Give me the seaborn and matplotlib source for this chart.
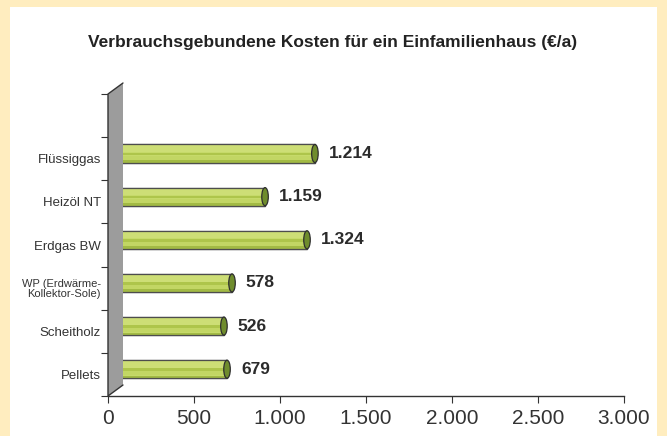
import matplotlib
matplotlib.use("Agg")
import matplotlib.pyplot as plt
from matplotlib.patches import Rectangle, Ellipse, Polygon
from matplotlib.lines import Line2D
from matplotlib.ticker import FuncFormatter, FixedLocator
import seaborn as sns
import pandas as pd

# data
categories = ["Flüssiggas", "Heizöl NT", "Erdgas BW",
              "WP (Erdwärme-\nKollektor-Sole)", "Scheitholz", "Pellets"]
bar_lengths = [1203, 913, 1157, 721, 674, 692]
value_labels = ["1.214", "1.159", "1.324", "578", "526", "679"]
x_ticks = [0, 500, 1000, 1500, 2000, 2500, 3000]

title = "Verbrauchsgebundene Kosten für ein Einfamilienhaus (€/a)"

df = pd.DataFrame({"Heizung": categories, "Kosten": bar_lengths})

sns.set_theme(style="white")
plt.rcParams["font.family"] = ["Liberation Sans", "DejaVu Sans"]

fig = plt.figure(figsize=(6.67, 4.36), dpi=100)
fig.patch.set_facecolor("#FFEDBF")
fig.patches.append(Rectangle((10 / 667, 0), 647 / 667, 1 - 7 / 436,
                             transform=fig.transFigure, facecolor="white",
                             edgecolor="none", zorder=-10))

ax = fig.add_axes([108 / 667, 40 / 436, 516 / 667, 302 / 436])
ax.set_facecolor("none")

sns.barplot(data=df, x="Kosten", y="Heizung", orient="h", color="#C6DA6A",
            width=0.42, edgecolor="#4D4D4D", linewidth=0.9, ax=ax,
            saturation=1, zorder=2)

ax.set_xlim(0, 3000)
ax.set_ylim(5.5, -1.5)

# 3D look: depth of the wall in data units
dx = 15 / 516 * 3000
dy = 11 / 302 * 7
shift = 0.12

bands = [(0.05, 0.42, "#CDDE76"), (0.45, 0.60, "#AEC54B"),
         (0.62, 0.84, "#C2D664"), (0.86, 1.0, "#A2BA44")]
for p in ax.patches[:len(categories)]:
    p.set_y(p.get_y() - shift)
    y0, h, w = p.get_y(), p.get_height(), p.get_width()
    for a, b, c in bands:
        ax.add_patch(Rectangle((0, y0 + a * h), w, (b - a) * h, facecolor=c,
                               edgecolor="none", zorder=2.1))
    ax.add_patch(Rectangle((0, y0), w, h, facecolor="none",
                           edgecolor="#4D4D4D", linewidth=0.9, zorder=2.2))
    ax.add_patch(Ellipse((w, y0 + h / 2), 38, h, facecolor="#6F8C2D",
                         edgecolor="#2E2E2E", linewidth=0.9, zorder=2.3))

ax.bar_label(ax.containers[0], labels=value_labels, padding=10,
             fontsize=12.5, fontweight="bold", color="#2B2B2B")

# gray side wall
wall = Polygon([(0, 5.5), (0, -1.5), (dx, -1.5 - dy), (dx, 5.5 - dy)],
               closed=True, facecolor="#9C9C9C", edgecolor="none",
               zorder=3, clip_on=False)
ax.add_patch(wall)
ax.add_line(Line2D([dx, 0, 0, dx], [-1.5 - dy, -1.5, 5.5, 5.5 - dy],
                   color="#333333", linewidth=1, zorder=3.1, clip_on=False))

for s in ["top", "right", "left"]:
    ax.spines[s].set_visible(False)
ax.spines["bottom"].set_color("#333333")
ax.spines["bottom"].set_linewidth(1)

ax.set_xticks(x_ticks)
ax.xaxis.set_major_formatter(FuncFormatter(lambda v, _: f"{int(v):,}".replace(",", ".")))
ax.tick_params(axis="x", direction="out", length=5, width=0.8, color="#333333",
               labelsize=15, labelcolor="#333333", pad=4, bottom=True)

ax.yaxis.set_minor_locator(FixedLocator([i - 0.5 for i in range(-1, 7)]))
ax.tick_params(axis="y", which="major", length=0, pad=5, labelsize=9.5,
               labelcolor="#333333")
ax.tick_params(axis="y", which="minor", length=5, width=0.8, color="#333333",
               left=True)
ax.set_ylabel("")
ax.set_xlabel("")
for t in ax.get_yticklabels():
    if "\n" in t.get_text():
        t.set_fontsize(8)
        t.set_linespacing(0.95)

fig.text(333 / 667, 1 - 43 / 436, title, ha="center", va="center",
         fontsize=12.5, fontweight="bold", color="#222222")

fig.savefig("out.png", dpi=100, facecolor=fig.get_facecolor())
